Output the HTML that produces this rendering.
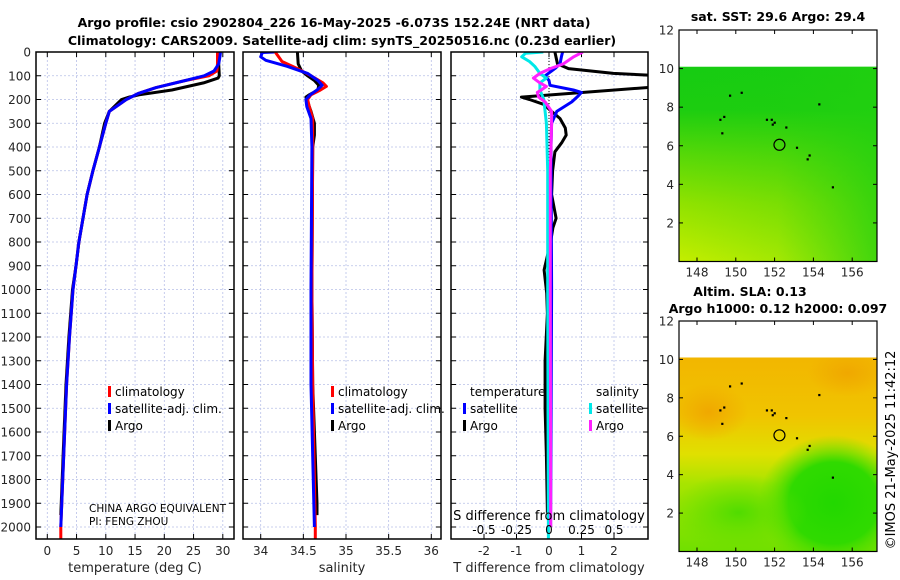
<!DOCTYPE html>
<html><head><meta charset="utf-8">
<style>
body{margin:0;background:#fff;}
svg{display:block;font-family:"DejaVu Sans","Liberation Sans",sans-serif;}
.tk{font-size:12px;fill:#262626;}
.tt{font-size:12.5px;font-weight:bold;fill:#000;}
.lg{font-size:12px;fill:#000;}
</style></head>
<body>
<svg id="chart" width="900" height="580" viewBox="0 0 900 580" xmlns="http://www.w3.org/2000/svg">
<defs>
<linearGradient id="sstg" x1="0" y1="0" x2="0" y2="1">
<stop offset="0" stop-color="#16cc12"/><stop offset="0.22" stop-color="#1ccd10"/>
<stop offset="0.45" stop-color="#56d808"/><stop offset="0.7" stop-color="#90e200"/>
<stop offset="1" stop-color="#c4ee00"/></linearGradient>
<linearGradient id="sstr" x1="0" y1="0" x2="1" y2="0">
<stop offset="0" stop-color="#22d010" stop-opacity="0"/><stop offset="0.5" stop-color="#22d010" stop-opacity="0.2"/><stop offset="1" stop-color="#22d010" stop-opacity="0.8"/></linearGradient>
<linearGradient id="slag" x1="0" y1="0" x2="0" y2="1">
<stop offset="0" stop-color="#f2b600"/><stop offset="0.3" stop-color="#f0c400"/>
<stop offset="0.5" stop-color="#e0e000"/><stop offset="0.65" stop-color="#a8e400"/>
<stop offset="1" stop-color="#70e000"/></linearGradient>
<radialGradient id="slab" cx="0.5" cy="0.5" r="0.5">
<stop offset="0" stop-color="#22d800"/><stop offset="0.6" stop-color="#30da00"/><stop offset="1" stop-color="#60e000" stop-opacity="0"/></radialGradient>
<radialGradient id="slao" cx="0.5" cy="0.5" r="0.5">
<stop offset="0" stop-color="#f0a800"/><stop offset="1" stop-color="#f0a800" stop-opacity="0"/></radialGradient>
<radialGradient id="slag2" cx="0.5" cy="0.5" r="0.5">
<stop offset="0" stop-color="#50dc00"/><stop offset="1" stop-color="#60e000" stop-opacity="0"/></radialGradient>
</defs>
<g id="plots"></g>
</svg>
<script>
// ---- data ----
const depthT_clim = [0,20,50,80,100,120,150,175,200,250,300,400,500,600,700,800,900,1000,1200,1400,1700,2000,2050];
const tempClim    = [29.1,29.1,29.1,29.0,27.6,23.6,18.6,15.5,13.5,10.6,10.0,8.9,7.8,6.8,6.1,5.4,4.9,4.4,3.8,3.3,2.8,2.3,2.3];
const tempSat     = [29.6,29.5,29.3,28.5,26.8,23.6,18.6,15.5,13.5,10.6,10.0,8.9,7.8,6.8,6.1,5.4,4.9,4.4,3.8,3.3,2.8,2.3,2.3];
const depthT_argo = [0,50,100,110,130,160,180,190,200,250,300,400,500,600,700,800,900,1000,1200,1400,1700,1950];
const tempArgo    = [29.3,29.3,29.4,29.2,26.7,21.3,15.7,14.0,12.7,10.6,9.8,8.9,7.8,6.8,6.1,5.4,4.9,4.3,3.7,3.2,2.7,2.3];

const depthS_clim = [0,20,40,70,100,130,145,160,180,200,230,280,400,1000,1400,2000,2050];
const salClim     = [34.17,34.21,34.25,34.43,34.59,34.73,34.77,34.70,34.59,34.55,34.57,34.61,34.61,34.60,34.61,34.64,34.64];
const depthS_sat  = [0,2,20,35,60,90,120,140,160,180,200,230,280,400,1000,1400,2000];
const salSat      = [34.16,34.02,34.00,34.06,34.31,34.55,34.67,34.72,34.66,34.58,34.53,34.54,34.59,34.60,34.59,34.59,34.63];
const depthS_argo = [0,50,80,100,120,140,160,180,190,210,250,300,350,400,1000,1400,1900,1950];
const salArgo     = [34.43,34.44,34.48,34.55,34.63,34.68,34.67,34.57,34.53,34.55,34.59,34.63,34.63,34.61,34.60,34.61,34.66,34.66];

const depthDT_sat = [0,20,50,70,100,120,140,160,170,185,210,250,300,400,1000,2000];
const dTsat       = [0.42,0.38,0.34,0.18,-0.12,0.0,0.03,0.75,1.0,0.9,0.7,0.24,0.08,0.06,0.08,0.05];
const depthDT_argo= [0,50,70,90,100,145,190,200,220,250,280,320,350,380,420,500,600,700,740,800,918,1015,1100,1300,1500,1700,1940];
const dTargo      = [0.18,0.26,0.6,1.98,3.5,3.5,-0.85,-0.6,-0.17,0.08,0.34,0.5,0.53,0.4,0.18,0.11,0.08,0.22,0.12,0.05,-0.15,-0.07,-0.05,-0.12,-0.12,-0.08,-0.05];
const depthDS_sat = [0,5,20,40,60,90,110,130,160,200,300,500,1000,2050];
const dSsat       = [-0.044,-0.18,-0.21,-0.15,-0.11,-0.07,-0.02,-0.07,-0.07,-0.04,-0.02,-0.01,-0.01,-0.005];
const depthDS_argo= [0,20,50,70,90,110,130,145,160,170,190,210,250,300,500,1000,2000];
const dSargo      = [0.26,0.19,0.11,0.01,-0.07,-0.12,-0.07,-0.02,-0.06,-0.09,-0.08,-0.03,0.02,0.02,0.01,0.01,0.013];

const depthTicks = [0,100,200,300,400,500,600,700,800,900,1000,1100,1200,1300,1400,1500,1600,1700,1800,1900,2000];
const tempTicks = [0,5,10,15,20,25,30];
const salTicks = [34,34.5,35,35.5,36];
const salTickLabels = ['34','34.5','35','35.5','36'];
const dTTicks = [-2,-1,0,1,2];
const dSTicks = [-0.5,-0.25,0,0.25,0.5];
const dSTickLabels = ['-0.5','-0.25','0','0.25','0.5'];
const mapLatTicks = [2,4,6,8,10,12];
const mapLonTicks = [148,150,152,154,156];
const floatLon = [149.2,149.4,149.3,149.7,150.3,151.6,151.85,151.9,152.0,152.6,153.15,153.7,153.8,154.3,155.0];
const floatLat = [7.35,7.5,6.65,8.6,8.75,7.35,7.35,7.1,7.2,6.95,5.9,5.3,5.5,8.15,3.85];
const profLon = 152.25, profLat = 6.05;

// ---- helpers ----
const NS='http://www.w3.org/2000/svg';
const root=document.getElementById('plots');
function mk(tag,attrs,parent){const e=document.createElementNS(NS,tag);for(const k in attrs)e.setAttribute(k,attrs[k]);(parent||root).appendChild(e);return e;}
const Y0=52, PXD=0.2375, YB=539;
const yD=d=>Y0+d*PXD;
const xT=v=>47.3+v*5.85;
const xS=v=>260.7+(v-34)*85.3;
const xDT=v=>549+v*32.5;
const xDS=v=>549+v*130;

function panel(name,x0,x1,xfun,ticks,labels,showY){
  const g=mk('g',{});
  
  
  ticks.forEach(t=>{const x=xfun(t);mk('line',{x1:x,x2:x,y1:Y0,y2:YB,stroke:'#b8c0e8','stroke-width':0.8,'stroke-dasharray':'2,2'},g);
    mk('line',{x1:x,x2:x,y1:YB,y2:YB-5,stroke:'#000'},g);mk('line',{x1:x,x2:x,y1:Y0,y2:Y0+5,stroke:'#000'},g);});
  depthTicks.forEach(d=>{const y=yD(d);mk('line',{x1:x0,x2:x1,y1:y,y2:y,stroke:'#b8c0e8','stroke-width':0.8,'stroke-dasharray':'2,2'},g);
    mk('line',{x1:x0,x2:x0+5,y1:y,y2:y,stroke:'#000'},g);mk('line',{x1:x1-5,x2:x1,y1:y,y2:y,stroke:'#000'},g);
    if(showY){const t=mk('text',{x:x0-5,y:y+4.5,'text-anchor':'end',class:'tk'},g);t.textContent=d;}});
  ticks.forEach((t,i)=>{if(labels){const tx=mk('text',{x:xfun(t),y:555,'text-anchor':'middle',class:'tk'},g);tx.textContent=labels[i];}});
  return g;
}
function line(name,depths,vals,xfun,color,w,clip){
  const p=depths.map((d,i)=>(i?'L':'M')+xfun(vals[i]).toFixed(1)+','+yD(d).toFixed(1)).join('');
  const e=mk('path',{d:p,fill:'none',stroke:color,'stroke-width':w||3,'stroke-linejoin':'round','clip-path':clip||''});
  
  
}
function txt(s,x,y,cls,anchor,name){const t=mk('text',{x:x,y:y,class:cls,'text-anchor':anchor||'start'});t.textContent=s;
  
  return t;}

const defs=document.querySelector('defs');
[['c1',36,234],['c2',243,441],['c3',451,648]].forEach(c=>{const cp=mk('clipPath',{id:c[0]},defs);mk('rect',{x:c[1],y:Y0,width:c[2]-c[1],height:YB-Y0},cp);});

// titles
txt('Argo profile: csio 2902804_226 16-May-2025 -6.073S 152.24E (NRT data)',334,27,'tt','middle','title-line-1');
txt('Climatology: CARS2009. Satellite-adj clim: synTS_20250516.nc (0.23d earlier)',342,45,'tt','middle','title-line-2');

// panel 1
panel('temperature-panel',36,234,xT,tempTicks,tempTicks.map(String),true);
line('temp-argo-line',depthT_argo,tempArgo,xT,'#000',3,'url(#c1)');
line('temp-clim-line',depthT_clim,tempClim,xT,'#ff0000',3,'url(#c1)');
line('temp-sat-line',depthT_clim.slice(0,-1),tempSat.slice(0,-1),xT,'#0000ff',3,'url(#c1)');
mk('rect',{x:36,y:Y0,width:198,height:YB-Y0,fill:'none',stroke:'#000','stroke-width':1.5});
txt('temperature (deg C)',135,572,'tk','middle','x-axis-title-temperature').setAttribute('style','font-size:13px');
txt('CHINA ARGO EQUIVALENT',89,512,'lg','start','credit-line-1').setAttribute('style','font-size:10.5px');
txt('PI: FENG ZHOU',89,525,'lg','start','credit-line-2').setAttribute('style','font-size:10.5px');

// panel 2
panel('salinity-panel',243,441,xS,salTicks,salTickLabels,false);
line('sal-argo-line',depthS_argo,salArgo,xS,'#000',3,'url(#c2)');
line('sal-clim-line',depthS_clim,salClim,xS,'#ff0000',3,'url(#c2)');
line('sal-sat-line',depthS_sat,salSat,xS,'#0000ff',3,'url(#c2)');
mk('rect',{x:243,y:Y0,width:198,height:YB-Y0,fill:'none',stroke:'#000','stroke-width':1.5});
txt('salinity',342,572,'tk','middle','x-axis-title-salinity').setAttribute('style','font-size:13px');

// panel 3
panel('difference-panel',451,648,xDT,dTTicks,dTTicks.map(String),false);
mk('line',{x1:549,x2:549,y1:Y0,y2:YB,stroke:'#000','stroke-width':1,'stroke-dasharray':'1,2'});
line('dT-argo-line',depthDT_argo,dTargo,xDT,'#000',3,'url(#c3)');
line('dT-sat-line',depthDT_sat,dTsat,xDT,'#0000ff',3,'url(#c3)');
line('dS-sat-line',depthDS_sat,dSsat,xDS,'#00e8e8',3,'url(#c3)');
line('dS-argo-line',depthDS_argo,dSargo,xDS,'#ff20ff',3,'url(#c3)');
mk('rect',{x:451,y:Y0,width:197,height:YB-Y0,fill:'none',stroke:'#000','stroke-width':1.5});
txt('S difference from climatology',549,520,'lg','middle','s-axis-title').setAttribute('style','font-size:13px');
dSTicks.forEach((t,i)=>{txt(dSTickLabels[i],xDS(t),534,'lg','middle','s-tick-label');});
txt('T difference from climatology',549,572,'tk','middle','x-axis-title-tdiff').setAttribute('style','font-size:13px');

// legends
function leg(x,y,color,label,name){const r=mk('rect',{x:x,y:y-10,width:3,height:11,fill:color});
  
  
  txt(label,x+7,y,'lg','start',name);}
leg(108,396,'#ff0000','climatology','legend-climatology');
leg(108,413,'#0000ff','satellite-adj. clim.','legend-satellite');
leg(108,430,'#000','Argo','legend-argo');
leg(331,396,'#ff0000','climatology','legend2-climatology');
leg(331,413,'#0000ff','satellite-adj. clim.','legend2-satellite');
leg(331,430,'#000','Argo','legend2-argo');
txt('temperature',470,396,'lg','start','legend-temperature-header');
leg(463,413,'#0000ff','satellite','legend3-t-satellite');
leg(463,430,'#000','Argo','legend3-t-argo');
txt('salinity',596,396,'lg','start','legend-salinity-header');
leg(589,413,'#00e8e8','satellite','legend3-s-satellite');
leg(589,430,'#ff20ff','Argo','legend3-s-argo');

// maps
let mapId=0;
function map(name,top,bot,fillFn){
  const g=mk('g',{});
  
  
  const x0=679,x1=877;
  const yL=l=>bot-l*(bot-top)/12;
  const xL=l=>697+(l-148)*19.4;
  const cid='mc'+(mapId++);
  const cp=mk('clipPath',{id:cid},defs);
  mk('rect',{x:x0,y:yL(10.1),width:x1-x0,height:bot-yL(10.1)},cp);
  const fg=mk('g',{'clip-path':'url(#'+cid+')'},g);
  fillFn(fg,x0,yL(10.1),x1-x0,bot-yL(10.1));
  floatLon.forEach((lo,i)=>mk('rect',{x:xL(lo)-1,y:yL(floatLat[i])-1,width:2.2,height:2.2,fill:'#000'},g));
  const c=mk('circle',{cx:xL(profLon),cy:yL(profLat),r:5.5,fill:'none',stroke:'#000','stroke-width':1.2},g);
  
  
  mk('rect',{x:x0,y:top,width:x1-x0,height:bot-top,fill:'none',stroke:'#000','stroke-width':1.2},g);
  mapLatTicks.forEach(l=>{const y=yL(l);mk('line',{x1:x0,x2:x0+4,y1:y,y2:y,stroke:'#000'},g);mk('line',{x1:x1-4,x2:x1,y1:y,y2:y,stroke:'#000'},g);
    const t=mk('text',{x:x0-5,y:y+4.5,'text-anchor':'end',class:'tk'},g);t.textContent=l;});
  mapLonTicks.forEach(l=>{const x=xL(l);mk('line',{x1:x,x2:x,y1:bot,y2:bot-4,stroke:'#000'},g);mk('line',{x1:x,x2:x,y1:top,y2:top+4,stroke:'#000'},g);
    const t=mk('text',{x:x,y:bot+15,'text-anchor':'middle',class:'tk'},g);t.textContent=l;});
}
map('sst-map',30,261.5,(g,x,y,w,h)=>{mk('rect',{x:x,y:y,width:w,height:h,fill:'url(#sstg)'},g);
  mk('rect',{x:x,y:y,width:w,height:h,fill:'url(#sstr)'},g);});
map('sla-map',321,551.5,(g,x,y,w,h)=>{mk('rect',{x:x,y:y,width:w,height:h,fill:'url(#slag)'},g);
  mk('ellipse',{cx:x+w*0.78,cy:y+h*0.75,rx:w*0.38,ry:h*0.35,fill:'url(#slab)'},g);
  mk('ellipse',{cx:x+w*0.3,cy:y+h*0.8,rx:w*0.35,ry:h*0.2,fill:'url(#slag2)'},g);
  mk('ellipse',{cx:x+w*0.85,cy:y+h*0.08,rx:w*0.2,ry:h*0.12,fill:'url(#slao)'},g);
  mk('ellipse',{cx:x+w*0.15,cy:y+h*0.28,rx:w*0.2,ry:h*0.15,fill:'url(#slao)'},g);});
txt('sat. SST: 29.6 Argo: 29.4',778,21,'tt','middle','sst-map-title');
txt('Altim. SLA: 0.13',750,296,'tt','middle','sla-map-title-1');
txt('Argo h1000: 0.12 h2000: 0.097',778,313,'tt','middle','sla-map-title-2');
const cr=txt('©IMOS 21-May-2025 11:42:12',0,0,'tk','middle','timestamp-credit');
cr.setAttribute('style','font-size:13px;fill:#000');
cr.setAttribute('transform','translate(895,450) rotate(-90)');
</script>
</body></html>
